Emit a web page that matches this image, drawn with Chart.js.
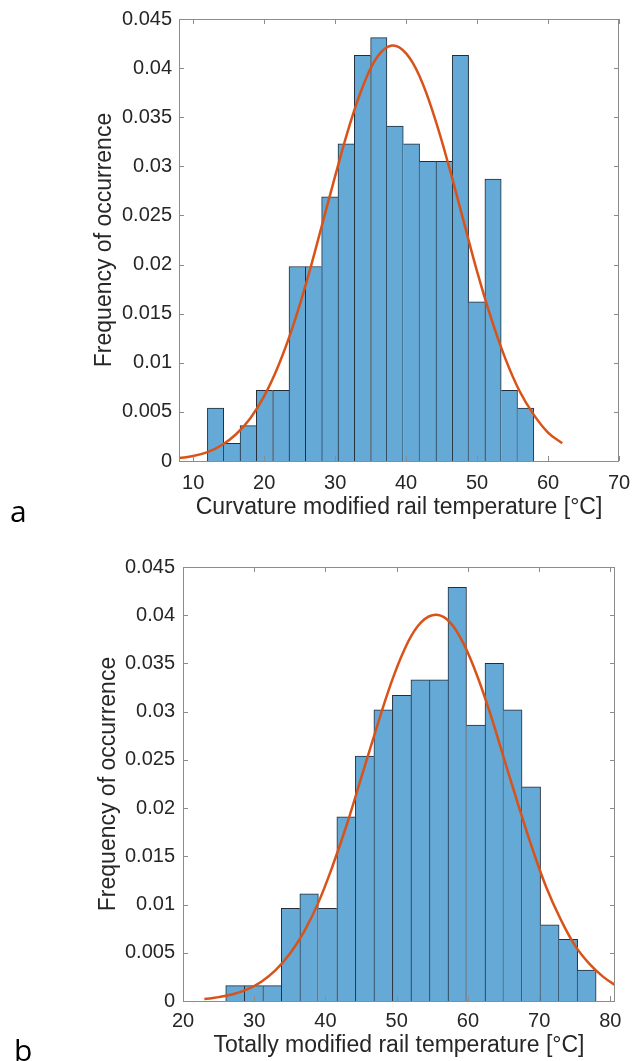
<!DOCTYPE html>
<html>
<head>
<meta charset="utf-8">
<script src="https://cdn.jsdelivr.net/npm/chart.js@4.4.1/dist/chart.umd.min.js"></script>
<style>
  html, body { margin: 0; padding: 0; background: #fff; }
  body { width: 633px; height: 1061px; position: relative; overflow: hidden; }
  canvas { position: absolute; left: 0; }
  #histA { top: 0; }
  #histB { top: 530px; }
</style>
</head>
<body>
<canvas id="histA" width="633" height="530"></canvas>
<canvas id="histB" width="633" height="531"></canvas>
<script>
// panel a - curvature modified rail temperature (bin width 2.3)
const binCentersA = [13.15, 15.45, 17.75, 20.05, 22.35, 24.65, 26.95, 29.25, 31.55, 33.85,
                     36.15, 38.45, 40.75, 43.05, 45.35, 47.65, 49.95, 52.25, 54.55, 56.85];
const freqA = [0.0054, 0.0018, 0.0036, 0.0072, 0.0072, 0.0198, 0.0198, 0.0269, 0.0323, 0.0413,
               0.0431, 0.0341, 0.0323, 0.0305, 0.0305, 0.0413, 0.0162, 0.0287, 0.0072, 0.0054];
const fitXA = [8, 10, 12, 14, 16, 18, 20, 22, 24, 26, 28, 30, 32, 34,
               36, 38, 40, 42, 44, 46, 48, 50, 52, 54, 56, 58, 60, 62];
const fitYA = [0.0003, 0.0005, 0.0009, 0.0016, 0.0027, 0.0043, 0.0066, 0.0097, 0.0136, 0.0183,
               0.0236, 0.0290, 0.0341, 0.0383, 0.0412, 0.0423, 0.0415, 0.0390, 0.0350, 0.0301,
               0.0247, 0.0193, 0.0145, 0.0104, 0.0071, 0.0047, 0.0029, 0.0018];
const xTicksA = [10, 20, 30, 40, 50, 60, 70];

// panel b - totally modified rail temperature (bin width 2.6)
const binCentersB = [27.3, 29.9, 32.5, 35.1, 37.7, 40.3, 42.9, 45.5, 48.1, 50.7,
                     53.3, 55.9, 58.5, 61.1, 63.7, 66.3, 68.9, 71.5, 74.1, 76.7];
const freqB = [0.0016, 0.0016, 0.0016, 0.0096, 0.0111, 0.0096, 0.0191, 0.0254, 0.0302, 0.0317,
               0.0333, 0.0333, 0.0429, 0.0286, 0.0350, 0.0302, 0.0222, 0.0079, 0.0064, 0.0032];
const fitXB = [23, 25, 27, 29, 31, 33, 35, 37, 39, 41, 43, 45, 47, 49, 51,
               53, 55, 57, 59, 61, 63, 65, 67, 69, 71, 73, 75, 77, 79, 81];
const fitYB = [0.0002, 0.0004, 0.0007, 0.0012, 0.0020, 0.0032, 0.0049, 0.0072, 0.0102, 0.0140,
               0.0183, 0.0231, 0.0279, 0.0325, 0.0363, 0.0389, 0.0400, 0.0396, 0.0376, 0.0343,
               0.0301, 0.0253, 0.0205, 0.0159, 0.0118, 0.0085, 0.0058, 0.0039, 0.0025, 0.0015];
const xTicksB = [20, 30, 40, 50, 60, 70, 80];

const yTicks = [0, 0.005, 0.01, 0.015, 0.02, 0.025, 0.03, 0.035, 0.04, 0.045];

const barFill = '#65a9d7';
const barEdge = '#222d38';
const fitColor = '#d95319';
const textColor = '#262626';
const boxColor = '#8c8c8c';
const fontFamily = '"Liberation Sans", Arial, Helvetica, sans-serif';

// one dark edge per shared bin boundary, put on the taller bar
function edgeWidths(vals) {
  return function (ctx) {
    const i = ctx.dataIndex, n = vals.length;
    return {
      left: (i === 0 || vals[i] >= vals[i - 1]) ? 1 : 0,
      right: (i === n - 1 || vals[i] > vals[i + 1]) ? 1 : 0,
      top: 1,
      bottom: 0
    };
  };
}

// matlab style box with inward ticks on all four sides, plus the panel letter
const matlabBox = {
  id: 'matlabBox',
  afterDatasetsDraw(chart, args, opts) {
    const { ctx, chartArea: a, scales: { x, y } } = chart;
    const len = 5;
    ctx.save();
    ctx.strokeStyle = boxColor;
    ctx.lineWidth = 1;
    ctx.beginPath();
    x.ticks.forEach(t => {
      const px = Math.round(x.getPixelForValue(t.value)) + 0.5;
      ctx.moveTo(px, a.bottom); ctx.lineTo(px, a.bottom - len);
      ctx.moveTo(px, a.top); ctx.lineTo(px, a.top + len);
    });
    y.ticks.forEach(t => {
      const py = Math.round(y.getPixelForValue(t.value)) + 0.5;
      ctx.moveTo(a.left, py); ctx.lineTo(a.left + len, py);
      ctx.moveTo(a.right, py); ctx.lineTo(a.right - len, py);
    });
    ctx.stroke();
    ctx.strokeRect(Math.round(a.left) + 0.5, Math.round(a.top) + 0.5,
                   Math.round(a.width) - 1, Math.round(a.height));
    ctx.fillStyle = '#000';
    ctx.font = '30px "Open Sans", "Noto Sans", sans-serif';
    ctx.textBaseline = 'alphabetic';
    ctx.textAlign = 'left';
    ctx.fillText(opts.letter, opts.lx, opts.ly);
    ctx.restore();
  }
};

function makeHist(id, centers, freq, fitX, fitY, xTicks, xMin, xMax, xTitle, lay) {
  const cfg = {
    type: 'bar',
    data: {
      datasets: [
        {
          type: 'line',
          data: fitX.map((v, i) => ({ x: v, y: fitY[i] })),
          borderColor: fitColor,
          borderWidth: 2.5,
          pointRadius: 0,
          tension: 0.4,
          fill: false,
          order: 0
        },
        {
          type: 'bar',
          data: centers.map((v, i) => ({ x: v, y: freq[i] })),
          backgroundColor: barFill,
          borderColor: barEdge,
          borderWidth: edgeWidths(freq),
          borderSkipped: false,
          barPercentage: 1,
          categoryPercentage: 1,
          grouped: false,
          order: 1
        }
      ]
    },
    options: {
      responsive: false,
      animation: false,
      devicePixelRatio: 1,
      layout: { padding: lay.pad },
      plugins: {
        legend: { display: false },
        tooltip: { enabled: false },
        matlabBox: { letter: lay.letter, lx: lay.lx, ly: lay.ly }
      },
      scales: {
        x: {
          type: 'linear',
          min: xMin,
          max: xMax,
          offset: false,
          afterBuildTicks: s => { s.ticks = xTicks.map(v => ({ value: v })); },
          afterFit: s => {
            s.height = lay.xAxisH;
            s.paddingLeft = 0;
            s.paddingRight = 0;
          },
          grid: { display: false, drawTicks: false, offset: false },
          border: { display: false },
          ticks: {
            color: textColor,
            font: { family: fontFamily, size: 20 },
            padding: lay.xTickPad,
            maxRotation: 0,
            autoSkip: false
          },
          title: {
            display: true,
            text: xTitle,
            color: textColor,
            font: { family: fontFamily, size: 23 },
            padding: { top: 0, bottom: lay.xTitlePad }
          }
        },
        y: {
          type: 'linear',
          min: 0,
          max: 0.045,
          afterBuildTicks: s => { s.ticks = yTicks.map(v => ({ value: v })); },
          afterFit: s => {
            s.width = lay.yAxisW;
            s.paddingTop = 0;
            s.paddingBottom = 0;
          },
          grid: { display: false, drawTicks: false },
          border: { display: false },
          ticks: {
            color: textColor,
            font: { family: fontFamily, size: 20 },
            padding: lay.yTickPad,
            callback: v => String(+v.toFixed(3))
          },
          title: {
            display: true,
            text: 'Frequency of occurrence',
            color: textColor,
            font: { family: fontFamily, size: 23 },
            padding: { top: lay.yTitlePad, bottom: 0 }
          }
        }
      }
    },
    plugins: [matlabBox]
  };
  return new Chart(document.getElementById(id).getContext('2d'), cfg);
}

makeHist('histA', binCentersA, freqA, fitXA, fitYA, xTicksA, 8, 70,
  'Curvature modified rail temperature [°C]',
  { pad: { top: 19, right: 14, bottom: 0, left: 0 }, yAxisW: 179, xAxisH: 69,
    xTickPad: 10, xTitlePad: 9, yTickPad: 7, yTitlePad: 91, letter: 'a', lx: 10, ly: 522 });

makeHist('histB', binCentersB, freqB, fitXB, fitYB, xTicksB, 20, 80.65,
  'Totally modified rail temperature [°C]',
  { pad: { top: 37, right: 18, bottom: 0, left: 0 }, yAxisW: 183, xAxisH: 60,
    xTickPad: 8, xTitlePad: 2, yTickPad: 8, yTitlePad: 95, letter: 'b', lx: 14, ly: 531 });
</script>
</body>
</html>
